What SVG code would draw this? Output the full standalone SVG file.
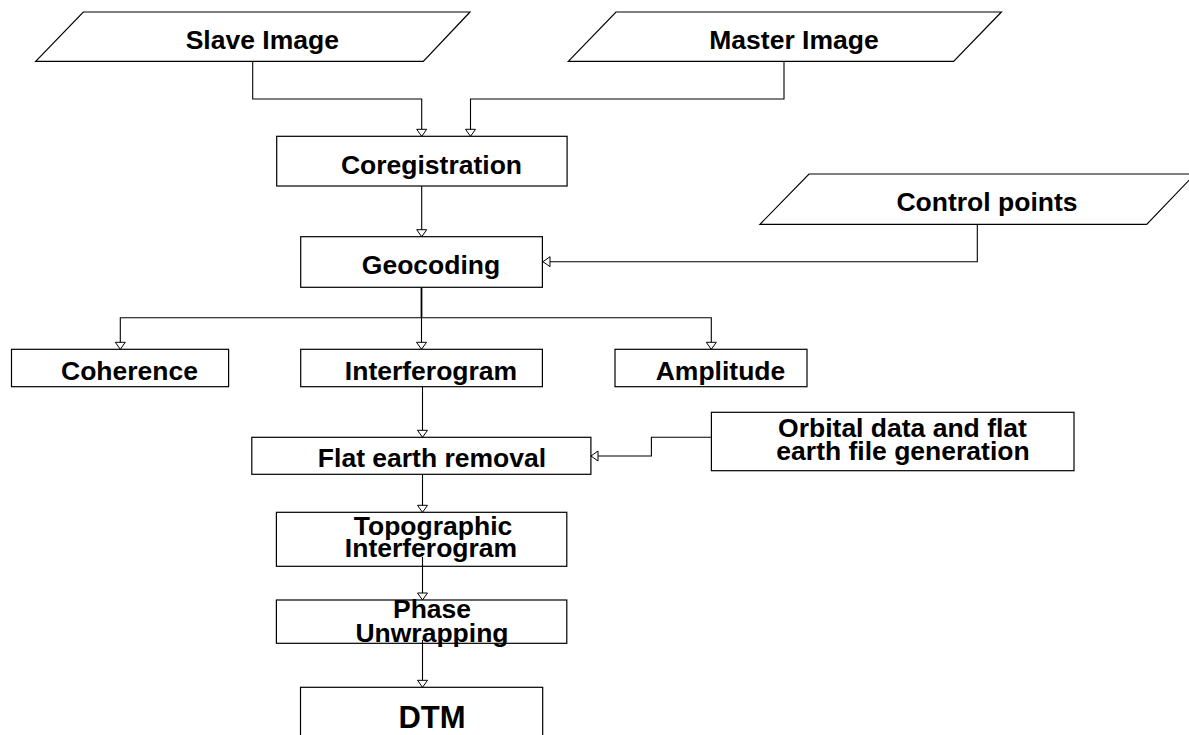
<svg xmlns="http://www.w3.org/2000/svg" width="1189" height="735" viewBox="0 0 1189 735">
<style>
.s{fill:#fff;stroke:#000;stroke-width:1.2}
.t{font-family:"Liberation Sans",Arial,sans-serif;font-weight:bold;font-size:26.5px;fill:#000;text-anchor:middle}
.c{fill:none;stroke:#000;stroke-width:1.1}
</style>
<defs>
<marker id="a" markerUnits="userSpaceOnUse" markerWidth="9" markerHeight="12" viewBox="-1 -1 9 12" refX="7" refY="5" orient="auto">
<path d="M0,0 L7,5 L0,10 Z" fill="#fff" stroke="#000" stroke-width="1"/>
</marker>
</defs>
<rect width="1189" height="735" fill="#fff"/>
<g id="connectors">
<path class="c" d="M252.7,61.3 V99 H421.7 V136.3" marker-end="url(#a)"/>
<path class="c" d="M784,61.3 V99 H470.5 V136.3" marker-end="url(#a)"/>
<path class="c" d="M421.7,186 V236.7" marker-end="url(#a)"/>
<path class="c" d="M977.3,224.3 V261.7 H543" marker-end="url(#a)"/>
<path class="c" d="M421.5,287.3 V317.7" style="stroke-width:1.8"/>
<path class="c" d="M421.5,317.7 H120.3 V349.3" marker-end="url(#a)"/>
<path class="c" d="M421.5,317.7 V349.3" marker-end="url(#a)"/>
<path class="c" d="M421.5,317.7 H711.3 V349.3" marker-end="url(#a)"/>
<path class="c" d="M422.5,386.7 V437.3" marker-end="url(#a)"/>
<path class="c" d="M711.4,437.3 H651.4 V456 H591" marker-end="url(#a)"/>
<path class="c" d="M422.5,474.3 V512.3" marker-end="url(#a)"/>
</g>
<g id="slave"><path class="s" d="M83.3,12 H470 L423.3,61.3 H35.7 Z"/><text class="t" x="262.3" y="49">Slave Image</text></g>
<g id="master"><path class="s" d="M616,12 H1001.4 L953.6,61.3 H568.3 Z"/><text class="t" x="794" y="49">Master Image</text></g>
<g id="coregistration"><rect class="s" x="276.7" y="136.3" width="290.4" height="49.7"/><text class="t" x="431.5" y="174">Coregistration</text></g>
<g id="control"><path class="s" d="M809,174 H1195 L1146.7,224.3 H760 Z"/><text class="t" x="987" y="210.7">Control points</text></g>
<g id="geocoding"><rect class="s" x="300.7" y="236.7" width="241.7" height="50.6"/><text class="t" x="431" y="274">Geocoding</text></g>
<g id="coherence"><rect class="s" x="11.5" y="349.3" width="217.1" height="37.4"/><text class="t" x="129.5" y="380">Coherence</text></g>
<g id="interferogram"><rect class="s" x="300.7" y="349.3" width="241.7" height="37.4"/><text class="t" x="431" y="380">Interferogram</text></g>
<g id="amplitude"><rect class="s" x="615" y="349.3" width="192" height="37.4"/><text class="t" x="720.5" y="380">Amplitude</text></g>
<g id="orbital"><rect class="s" x="711.4" y="412.3" width="362.6" height="58.4"/><text class="t" x="902.5" y="437.3">Orbital data and flat</text><text class="t" x="903" y="460">earth file generation</text></g>
<g id="flatearth"><rect class="s" x="251.8" y="437.3" width="339.1" height="37"/><text class="t" x="432" y="466.7">Flat earth removal</text></g>
<g id="topographic"><rect class="s" x="276.4" y="512.3" width="290.4" height="54"/><text class="t" x="433" y="535">Topographic</text><text class="t" x="431" y="556.7">Interferogram</text></g>
<g id="phase"><rect class="s" x="276.4" y="600" width="290.4" height="43.3"/><text class="t" x="432" y="618.3">Phase</text><text class="t" x="432" y="641.7">Unwrapping</text></g>
<g id="dtm"><rect class="s" x="300.5" y="687.3" width="242.2" height="55"/><text class="t" x="432" y="728.3" style="font-size:31px">DTM</text></g>
<g id="connectors-over">
<path class="c" d="M422.5,557 V600" marker-end="url(#a)"/>
<path class="c" d="M422.5,640 V687.3" marker-end="url(#a)"/>
</g>
</svg>
